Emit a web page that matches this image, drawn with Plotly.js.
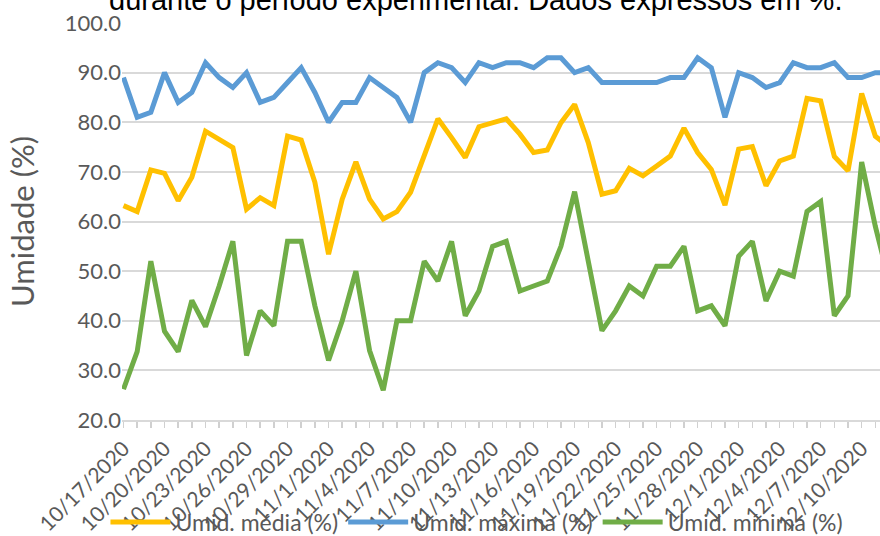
<!DOCTYPE html>
<html>
<head>
<meta charset="utf-8">
<script src="https://cdn.plot.ly/plotly-3.0.1.min.js"></script>
<style>
html,body{margin:0;padding:0;overflow:hidden;background:#fff;}
#chart{width:880px;height:536px;}
</style>
</head>
<body>
<div id="chart"></div>
<script>
const dates = [
'2020-10-17','2020-10-18','2020-10-19','2020-10-20','2020-10-21','2020-10-22','2020-10-23','2020-10-24',
'2020-10-25','2020-10-26','2020-10-27','2020-10-28','2020-10-29','2020-10-30','2020-10-31',
'2020-11-01','2020-11-02','2020-11-03','2020-11-04','2020-11-05','2020-11-06','2020-11-07','2020-11-08',
'2020-11-09','2020-11-10','2020-11-11','2020-11-12','2020-11-13','2020-11-14','2020-11-15','2020-11-16',
'2020-11-17','2020-11-18','2020-11-19','2020-11-20','2020-11-21','2020-11-22','2020-11-23','2020-11-24',
'2020-11-25','2020-11-26','2020-11-27','2020-11-28','2020-11-29','2020-11-30',
'2020-12-01','2020-12-02','2020-12-03','2020-12-04','2020-12-05','2020-12-06','2020-12-07','2020-12-08',
'2020-12-09','2020-12-10','2020-12-11','2020-12-12'
];
const umidMedia = [63.2,62.0,70.4,69.7,64.2,68.9,78.2,76.6,74.9,62.5,64.8,63.2,77.2,76.4,67.9,
53.4,64.5,72.0,64.5,60.5,62.0,65.9,73.2,80.7,76.9,72.9,79.1,79.9,80.7,77.6,73.9,74.4,79.9,83.6,75.9,
65.5,66.2,70.7,69.2,71.2,73.2,78.8,73.9,70.5,63.3,74.6,75.1,67.2,72.2,73.2,84.8,84.3,73.1,70.2,85.8,77.2,75.0];
const umidMaxima = [89,81,82,90,84,86,92,89,87,90,84,85,88,91,86,80,84,84,89,87,85,80,90,92,91,88,92,91,92,92,
91,93,93,90,91,88,88,88,88,88,89,89,93,91,81,90,89,87,88,92,91,91,92,89,89,90,90];
const umidMinima = [26.2,33.8,52,37.9,33.8,44.1,38.8,47,56,33,42,39,56,56,43,32,40,50,34,26,40,40,52,48,56,41,46,
55,56,46,47,48,55,66,52,38,42,47,45,51,51,55,42,43,39,53,56,44,50,49,62,64,41,45,72,59,48];
const seriesNames = ['Umid. média (%)','Umid. máxima (%)','Umid. mínima (%)'];
const seriesColors = ['#FFC000','#5B9BD5','#70AD47'];
const yTitle = 'Umidade (%)';
const titleText = 'durante o período experimental. Dados expressos em %.';

const seriesData = [umidMedia, umidMaxima, umidMinima];
const traces = seriesData.map((vals, k) => ({
  x: dates, y: vals, type: 'scatter', mode: 'lines', name: seriesNames[k],
  line: {color: seriesColors[k], width: 5, shape: 'linear'}
}));

const gray = '#595959';
const layout = {
  width: 880, height: 536,
  margin: {l: 122, r: 0, t: 23, b: 116, autoexpand: false},
  paper_bgcolor: '#fff', plot_bgcolor: '#fff',
  font: {family: 'Lato, Carlito, sans-serif', color: gray},
  showlegend: true,
  legend: {orientation: 'h', xref: 'container', yref: 'container', x: 0.542, xanchor: 'center',
           y: 0.026, yanchor: 'middle', font: {size: 23, color: gray, family: 'Lato, sans-serif'},
           itemwidth: 60, bgcolor: 'rgba(0,0,0,0)'},
  xaxis: {
    type: 'date',
    range: ['2020-10-16 21:22', '2020-12-11 08:10'],
    tick0: '2020-10-17', dtick: 3 * 86400000,
    tickformat: '%-m/%-d/%Y', tickangle: -45,
    tickfont: {size: 21, color: gray},
    ticks: 'outside', ticklen: 6, tickcolor: '#d0d0d0', tickwidth: 1.5,
    minor: {dtick: 86400000, ticks: 'outside', ticklen: 6, tickcolor: '#d0d0d0', tickwidth: 1.5, showgrid: false},
    showgrid: false, showline: true, linecolor: '#d9d9d9', linewidth: 2,
    zeroline: false, fixedrange: true
  },
  yaxis: {
    range: [20, 100], dtick: 10, tick0: 20, tickformat: '.1f',
    tickfont: {size: 22, color: gray},
    showgrid: true, gridcolor: '#d9d9d9', gridwidth: 2,
    zeroline: false, showline: false, ticks: '',
    title: {text: yTitle, font: {size: 31, color: gray}, standoff: 20}
  },
  annotations: [{
    text: titleText, xref: 'paper', yref: 'paper', x: 0.466, y: 1, xanchor: 'center', yanchor: 'bottom',
    yshift: 5, showarrow: false, font: {family: 'Liberation Sans, Arial, sans-serif', size: 29, color: '#000'}
  }]
};
Plotly.newPlot('chart', traces, layout, {displayModeBar: false, staticPlot: true});
</script>
</body>
</html>
